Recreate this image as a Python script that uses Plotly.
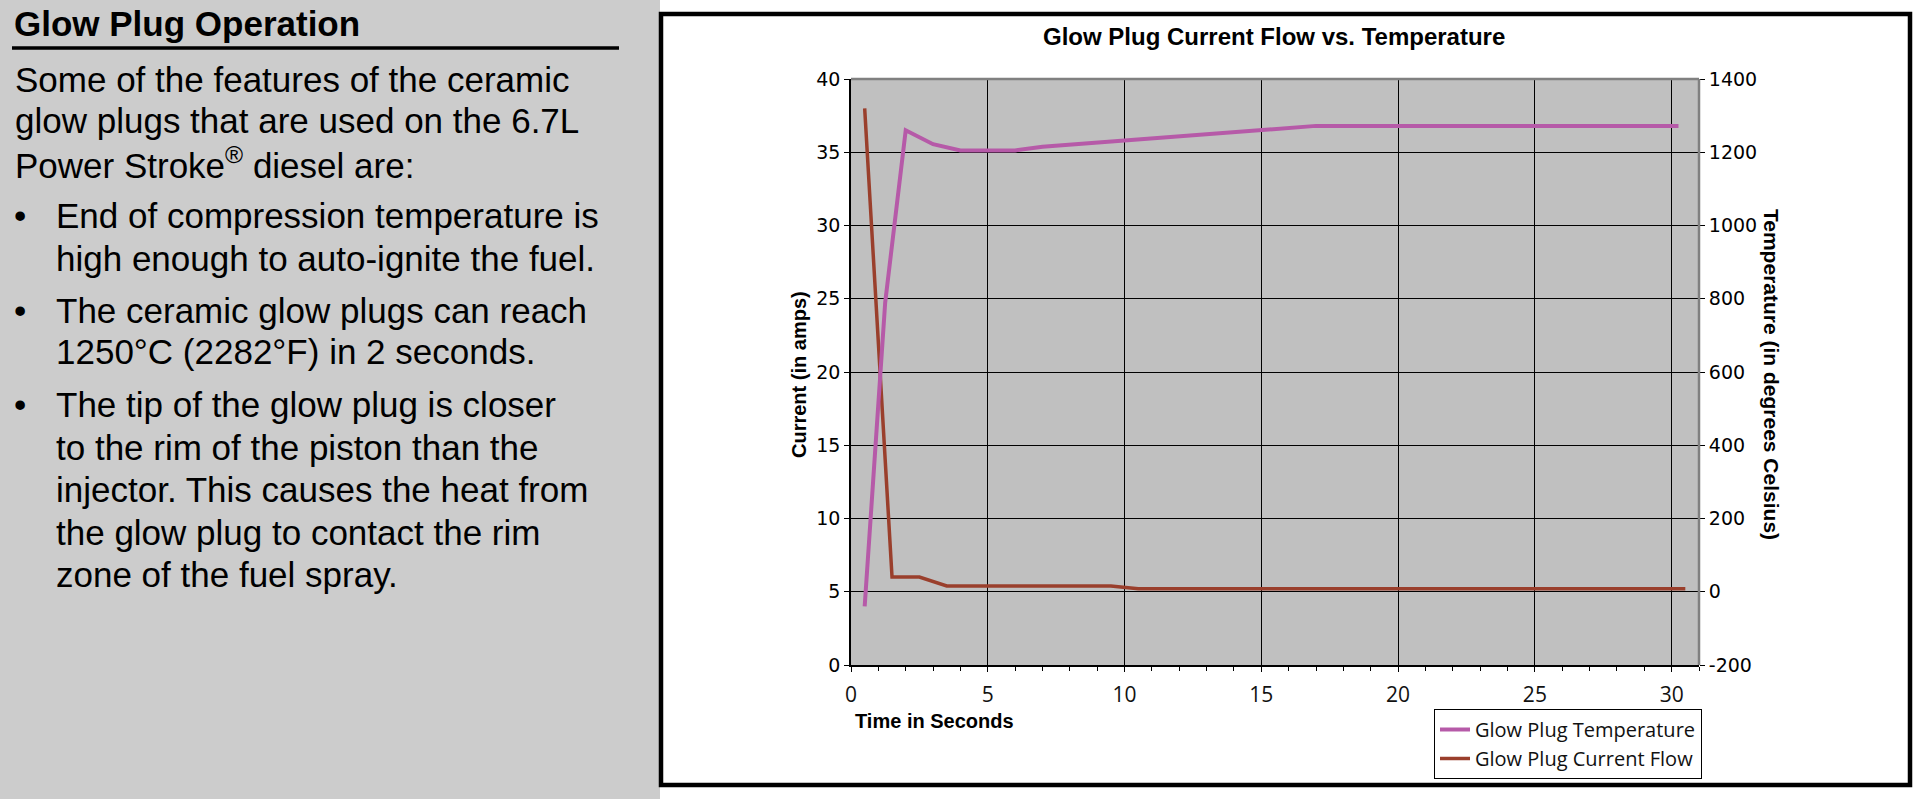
import plotly.graph_objects as go

W, H = 1925, 799

# ---------------- data ----------------
temp_time = [0.5, 1.25, 2.0, 3.0, 4.0, 6.0, 7.0, 17.0, 30.25]
temp_c = [-40, 790, 1260, 1222, 1205, 1205, 1215, 1272, 1272]

current_time = [0.5, 1.5, 2.5, 3.5, 9.5, 10.5, 30.5]
current_a = [38.0, 6.0, 6.0, 5.4, 5.4, 5.2, 5.2]

series_names = ["Glow Plug Temperature", "Glow Plug Current Flow"]

x_tick_vals = [0, 5, 10, 15, 20, 25, 30]
y_left_tick_vals = [0, 5, 10, 15, 20, 25, 30, 35, 40]
y_right_tick_vals = [-200, 0, 200, 400, 600, 800, 1000, 1200, 1400]
y_right_tick_text = ["-200", "0", "200", "400", "600", "800", "1000", "1200", "1400"]

chart_title = "Glow Plug Current Flow vs. Temperature"
x_title = "Time in Seconds"
y_left_title = "Current (in amps)"
y_right_title = "Temperature (in degrees Celsius)"

panel_title = "Glow Plug Operation"
panel_lines = [
    ("", "Some of the features of the ceramic"),
    ("", "glow plugs that are used on the 6.7L"),
    ("", "Power Stroke<sup>®</sup> diesel are:"),
    ("•", "End of compression temperature is"),
    ("", "high enough to auto-ignite the fuel."),
    ("•", "The ceramic glow plugs can reach"),
    ("", "1250°C (2282°F) in 2 seconds."),
    ("•", "The tip of the glow plug is closer"),
    ("", "to the rim of the piston than the"),
    ("", "injector. This causes the heat from"),
    ("", "the glow plug to contact the rim"),
    ("", "zone of the fuel spray."),
]

# ---------------- styling / layout helpers ----------------
PINK = "#B65AA8"
BROWN = "#9A3F2C"
PANEL = "#CCCCCC"
PLOTBG = "#C0C0C0"


def px(x):
    """pixel x -> paper fraction"""
    return x / W


def py(y):
    """pixel y (from top) -> paper fraction"""
    return 1 - y / H


PL, PR, PT, PB = 851, 1699, 79, 665  # plot area in pixels

line_y = [79.3, 121, 162.8, 215.6, 258.5, 310.1, 351.9, 404.6, 447.6, 489.4, 532.3, 574.6]
indent = [12.7, 12.7, 12.7, 54, 54, 54, 54, 54, 54, 54, 54, 54]

fig = go.Figure()
fig.add_trace(go.Scatter(
    x=temp_time, y=temp_c, yaxis="y2", mode="lines", name=series_names[0],
    line=dict(color=PINK, width=4),
))
fig.add_trace(go.Scatter(
    x=current_time, y=current_a, mode="lines", name=series_names[1],
    line=dict(color=BROWN, width=3.5),
))

annotations = []
# left panel text
annotations.append(dict(
    text="<b>" + panel_title + "</b>", x=px(12.4), y=py(23.5), xref="paper", yref="paper",
    xanchor="left", yanchor="middle", showarrow=False,
    font=dict(family="Liberation Sans", size=35, color="black"),
))
for (bullet, txt), yy, xx in zip(panel_lines, line_y, indent):
    if bullet:
        annotations.append(dict(
            text=bullet, x=px(12), y=py(yy), xref="paper", yref="paper",
            xanchor="left", yanchor="middle", showarrow=False,
            font=dict(family="Liberation Sans", size=35, color="black"),
        ))
    annotations.append(dict(
        text=txt, x=px(xx), y=py(yy), xref="paper", yref="paper",
        xanchor="left", yanchor="middle", showarrow=False,
        font=dict(family="Liberation Sans", size=35, color="black"),
    ))

# chart texts
annotations.append(dict(
    text="<b>" + chart_title + "</b>", x=px(1274), y=py(36), xref="paper", yref="paper",
    xanchor="center", yanchor="middle", showarrow=False,
    font=dict(family="Liberation Sans", size=24, color="black"),
))
annotations.append(dict(
    text="<b>" + x_title + "</b>", x=px(853), y=py(720.5), xref="paper", yref="paper",
    xanchor="left", yanchor="middle", showarrow=False,
    font=dict(family="Liberation Sans", size=20, color="black"),
))
annotations.append(dict(
    text="<b>" + y_left_title + "</b>", x=px(799), y=py(375), xref="paper", yref="paper",
    xanchor="center", yanchor="middle", showarrow=False, textangle=-90,
    font=dict(family="Liberation Sans", size=20, color="black"),
))
annotations.append(dict(
    text="<b>" + y_right_title + "</b>", x=px(1772), y=py(374), xref="paper", yref="paper",
    xanchor="center", yanchor="middle", showarrow=False, textangle=90,
    font=dict(family="Liberation Sans", size=21, color="black"),
))

shapes = [
    # gray left panel
    dict(type="rect", xref="paper", yref="paper", x0=0, x1=px(660), y0=0, y1=1,
         fillcolor=PANEL, line=dict(width=0), layer="below"),
    # heading underline
    dict(type="line", xref="paper", yref="paper", x0=px(12), x1=px(619), y0=py(48), y1=py(48),
         line=dict(color="black", width=3.5)),
    # chart frame
    dict(type="rect", xref="paper", yref="paper", x0=px(661), x1=px(1910), y0=py(785), y1=py(14),
         line=dict(color="black", width=4.5), fillcolor="rgba(0,0,0,0)"),
    # gray top / right plot border
    dict(type="line", xref="paper", yref="paper", x0=px(PL), x1=px(PR), y0=py(PT), y1=py(PT),
         line=dict(color="#808080", width=2.5)),
    dict(type="line", xref="paper", yref="paper", x0=px(PR), x1=px(PR), y0=py(PT), y1=py(PB),
         line=dict(color="#808080", width=2.5)),
]

fig.update_layout(
    width=W, height=H, autosize=False,
    margin=dict(l=0, r=0, t=0, b=0, pad=0, autoexpand=False),
    paper_bgcolor="white", plot_bgcolor=PLOTBG,
    font=dict(family="Liberation Sans", color="black"),
    showlegend=True,
    legend=dict(
        x=px(1434), y=py(709), xanchor="left", yanchor="top",
        bgcolor="white", bordercolor="black", borderwidth=1,
        font=dict(family="Open Sans", size=20, color="#111111"),
        tracegroupgap=0, itemwidth=30,
    ),
    xaxis=dict(
        domain=[px(PL), px(PR)], range=[0, 31], tickmode="array", tickvals=x_tick_vals,
        ticks="outside", ticklen=5, tickcolor="black", tickwidth=1, ticklabelstandoff=5,
        showline=True, linecolor="black", linewidth=1.5, automargin=False,
        showgrid=True, gridcolor="black", gridwidth=1, zeroline=False,
        tickfont=dict(family="Open Sans", size=21, color="#111111"),
        minor=dict(tick0=0, dtick=1, ticks="outside", ticklen=4, tickcolor="black", showgrid=False),
        anchor="y",
    ),
    yaxis=dict(
        domain=[py(PB), py(PT)], range=[0, 40], tickmode="array", tickvals=y_left_tick_vals,
        ticks="outside", ticklen=5, tickcolor="black", tickwidth=1,
        showline=True, linecolor="black", linewidth=1.5, automargin=False,
        showgrid=True, gridcolor="black", gridwidth=1, zeroline=False,
        tickfont=dict(family="DejaVu Sans", size=19, color="black"),
        anchor="x",
    ),
    yaxis2=dict(
        overlaying="y", side="right", anchor="x", range=[-200, 1400],
        tickmode="array", tickvals=y_right_tick_vals, ticktext=y_right_tick_text,
        ticks="outside", ticklen=5, tickcolor="black", tickwidth=1, automargin=False,
        showline=False, showgrid=False, zeroline=False,
        tickfont=dict(family="DejaVu Sans", size=19, color="black"),
    ),
    annotations=annotations,
    shapes=shapes,
)

fig.write_html("out.html")
